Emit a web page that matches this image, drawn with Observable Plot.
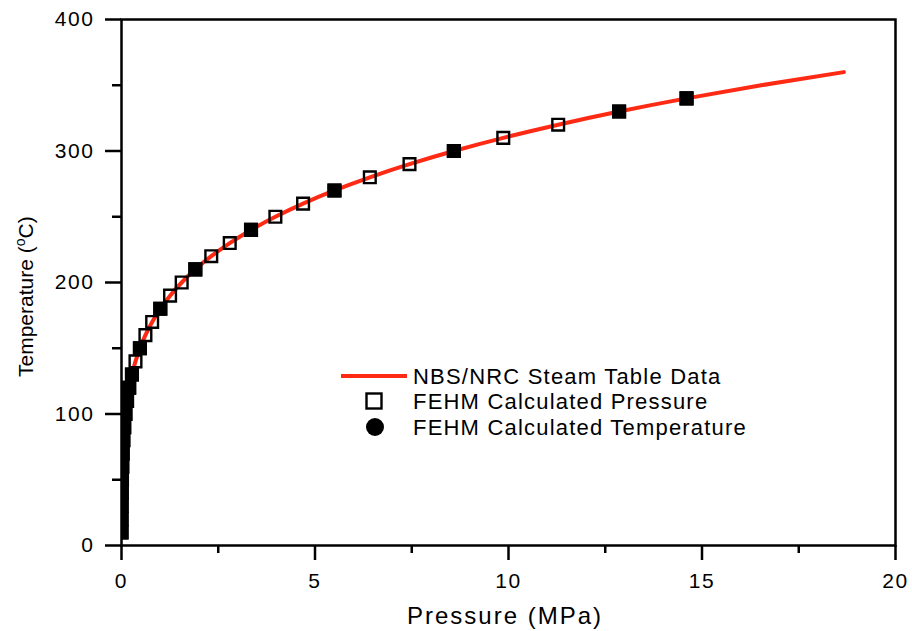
<!DOCTYPE html>
<html>
<head>
<meta charset="utf-8">
<script src="https://cdn.jsdelivr.net/npm/d3@7"></script>
<script src="https://cdn.jsdelivr.net/npm/@observablehq/plot@0.6"></script>
<style>
  html, body { margin: 0; padding: 0; background: white; }
  #chart { position: relative; width: 912px; height: 631px; }
</style>
</head>
<body>
<div id="chart"></div>
<script>
// Saturation temperature (°C) and pressure (MPa), NBS/NRC steam table curve
const steamTemperature = [10, 20, 30, 40, 50, 60, 70, 80, 90, 100, 110, 120, 130, 140, 150, 160, 170, 180, 190, 200, 210, 220, 230, 240, 250, 260, 270, 280, 290, 300, 310, 320, 330, 340, 350, 360];
const steamPressure = [0.00123, 0.00234, 0.00425, 0.00738, 0.01235, 0.01995, 0.0312, 0.0474, 0.0701, 0.1014, 0.1434, 0.1987, 0.2703, 0.3615, 0.4762, 0.6182, 0.7922, 1.0028, 1.2552, 1.5549, 1.9077, 2.3196, 2.7971, 3.3469, 3.9762, 4.6923, 5.5030, 6.4166, 7.4418, 8.5879, 9.8651, 11.284, 12.858, 14.601, 16.529, 18.666];

// FEHM calculated pressure points (open squares)
const fehmPressureT = [10, 20, 30, 40, 50, 60, 70, 80, 90, 100, 110, 120, 130, 140, 150, 160, 170, 180, 190, 200, 210, 220, 230, 240, 250, 260, 270, 280, 290, 300, 310, 320, 330, 340];
const fehmPressureP = [0.00123, 0.00234, 0.00425, 0.00738, 0.01235, 0.01995, 0.0312, 0.0474, 0.0701, 0.1014, 0.1434, 0.1987, 0.2703, 0.3615, 0.4762, 0.6182, 0.7922, 1.0028, 1.2552, 1.5549, 1.9077, 2.3196, 2.7971, 3.3469, 3.9762, 4.6923, 5.5030, 6.4166, 7.4418, 8.5879, 9.8651, 11.284, 12.858, 14.601];

// FEHM calculated temperature points (filled)
const fehmTempT = [10, 20, 30, 40, 50, 60, 70, 80, 90, 100, 110, 120, 130, 150, 180, 210, 240, 270, 300, 330, 340];
const fehmTempP = [0.00123, 0.00234, 0.00425, 0.00738, 0.01235, 0.01995, 0.0312, 0.0474, 0.0701, 0.1014, 0.1434, 0.1987, 0.2703, 0.4762, 1.0028, 1.9077, 3.3469, 5.5030, 8.5879, 12.858, 14.601];

const xMajorTicks = [0, 5, 10, 15, 20];
const xMinorTicks = [2.5, 7.5, 12.5, 17.5];
const yMajorTicks = [0, 100, 200, 300, 400];
const yMinorTicks = [50, 150, 250, 350];

const legendLabels = ["NBS/NRC Steam Table Data", "FEHM Calculated Pressure", "FEHM Calculated Temperature"];
const xLabel = "Pressure (MPa)";
const yLabelParts = ["Temperature (", "o", "C)"];

const steam = steamTemperature.map((t, i) => ({t, p: steamPressure[i]}));
const pressurePts = fehmPressureT.map((t, i) => ({t, p: fehmPressureP[i]}));
const tempPts = fehmTempT.map((t, i) => ({t, p: fehmTempP[i]}));

const FONT = "'Liberation Sans', Arial, Helvetica, sans-serif";
const RED = "#ff2a14";

const plot = Plot.plot({
  width: 912,
  height: 631,
  marginLeft: 121,
  marginRight: 17,
  marginTop: 19,
  marginBottom: 86,
  style: {fontFamily: FONT, fontSize: "21px", color: "black", background: "white", letterSpacing: "1.6px"},
  x: {domain: [0, 20]},
  y: {domain: [0, 400]},
  marks: [
    Plot.line(steam, {x: "p", y: "t", stroke: RED, strokeWidth: 4, curve: "monotone-y", clip: true}),
    Plot.dot(pressurePts, {x: "p", y: "t", symbol: "square", r: 6.6, stroke: "black", strokeWidth: 2.4, fill: "none", clip: true}),
    Plot.dot(tempPts, {x: "p", y: "t", symbol: "square", r: 6.6, stroke: "black", strokeWidth: 2.4, fill: "black", clip: true}),
    Plot.frame({stroke: "black", strokeWidth: 2.5}),
    Plot.axisX({ticks: xMajorTicks, tickSize: 15, tickPadding: 13, tickFormat: d => String(d), strokeWidth: 2.5, label: null}),
    Plot.axisX({ticks: xMinorTicks, tickSize: 8, tickFormat: () => "", strokeWidth: 2.5, label: null}),
    Plot.axisY({ticks: yMajorTicks, tickSize: 16, tickPadding: 11, tickFormat: d => String(d), strokeWidth: 2.5, label: null}),
    Plot.axisY({ticks: yMinorTicks, tickSize: 9, tickFormat: () => "", strokeWidth: 2.5, label: null})
  ]
});

document.getElementById("chart").appendChild(plot);

const svg = d3.select(plot);

// Axis titles
svg.append("text")
  .attr("x", 505).attr("y", 624)
  .attr("text-anchor", "middle")
  .style("text-anchor", "middle")
  .style("font-family", FONT).style("font-size", "24px").style("letter-spacing", "2px")
  .attr("fill", "black")
  .text(xLabel);

const yl = svg.append("text")
  .attr("transform", "translate(33,377) rotate(-90)")
  .attr("text-anchor", "start")
  .style("text-anchor", "start")
  .style("font-family", FONT).style("font-size", "21px").style("letter-spacing", "0px")
  .attr("fill", "black");
yl.append("tspan").text(yLabelParts[0]);
yl.append("tspan").attr("dy", -8).style("font-size", "14px").text(yLabelParts[1]);
yl.append("tspan").attr("dy", 8).text(yLabelParts[2]);

// Legend
const legendRowsY = [376, 401, 427];
const lg = svg.append("g").attr("text-anchor", "start").style("text-anchor", "start");
lg.append("line").attr("x1", 341).attr("x2", 407).attr("y1", legendRowsY[0]).attr("y2", legendRowsY[0])
  .attr("stroke", RED).attr("stroke-width", 4);
lg.append("rect").attr("x", 374 - 7.5).attr("y", legendRowsY[1] - 7.5).attr("width", 15).attr("height", 15)
  .attr("fill", "none").attr("stroke", "black").attr("stroke-width", 2.4);
lg.append("circle").attr("cx", 375).attr("cy", legendRowsY[2]).attr("r", 9).attr("fill", "black");
legendLabels.forEach((lab, i) => {
  lg.append("text").attr("x", 413).attr("y", legendRowsY[i]).attr("dy", "0.36em")
    .attr("text-anchor", "start").style("text-anchor", "start")
    .style("font-family", FONT).style("font-size", "22px").style("letter-spacing", "1.2px")
    .attr("fill", "black").text(lab);
});
</script>
</body>
</html>
